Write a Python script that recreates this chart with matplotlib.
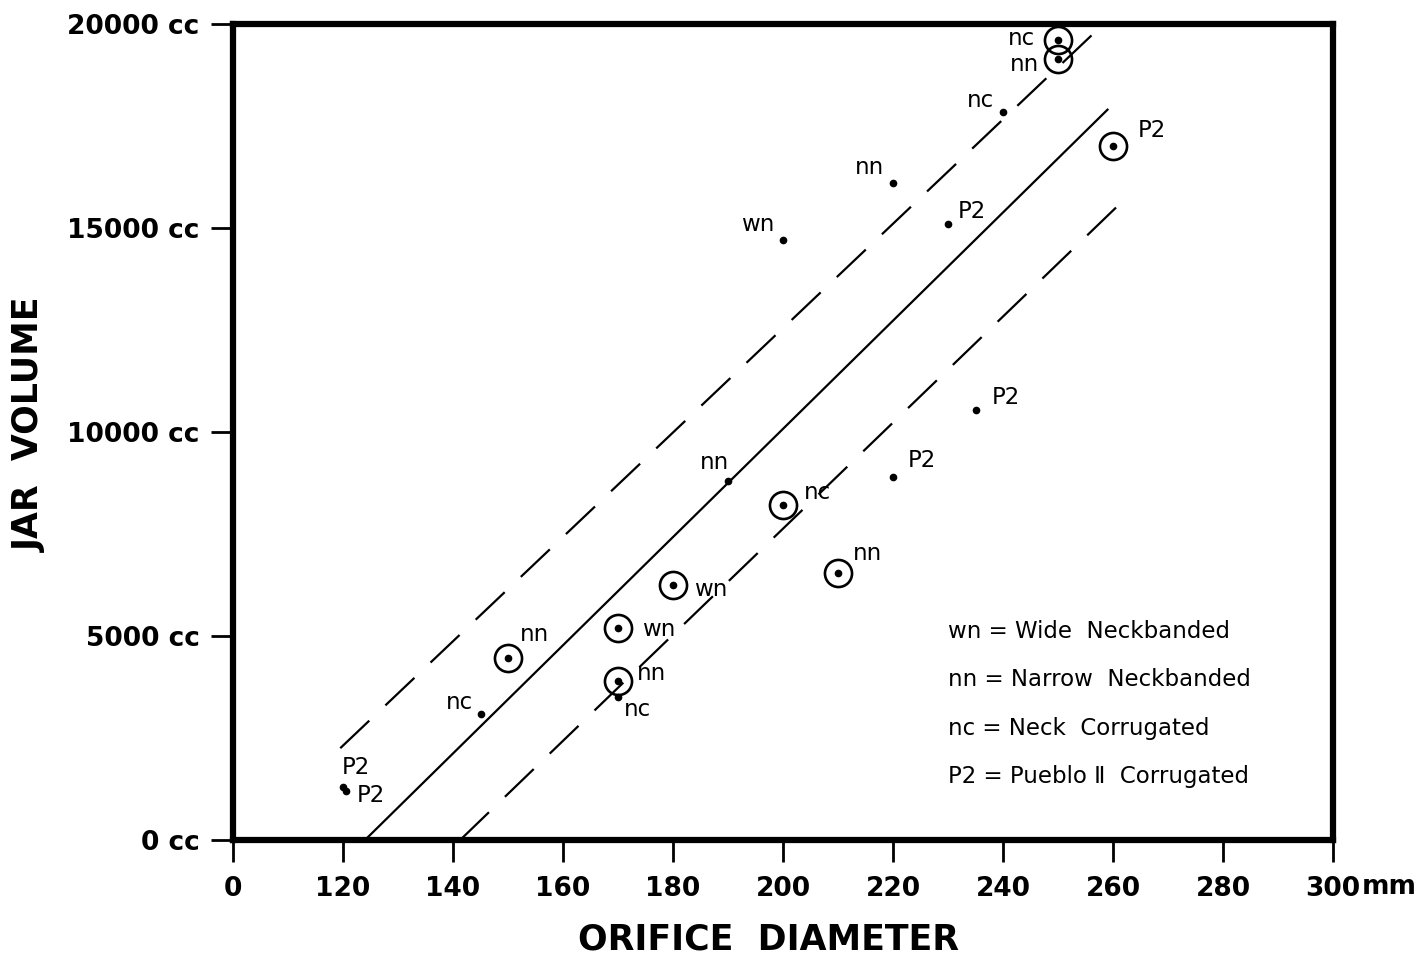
import matplotlib.pyplot as plt
from matplotlib.ticker import FixedLocator

plt.rcParams['font.family'] = ['DejaVu Sans']

# jar measurements: orifice diameter (mm), volume (cc), type code, circled?
diam = [250, 250, 240, 260, 220, 230, 200, 235, 220, 190,
        200, 210, 180, 170, 150, 170, 170, 145, 120, 120.5]
volume = [19600, 19150, 17850, 17000, 16100, 15100, 14700, 10550, 8900, 8800,
          8200, 6550, 6250, 5200, 4450, 3900, 3500, 3100, 1300, 1200]
jar_type = ['nc', 'nn', 'nc', 'P2', 'nn', 'P2', 'wn', 'P2', 'P2', 'nn',
            'nc', 'nn', 'wn', 'wn', 'nn', 'nn', 'nc', 'nc', 'P2', 'P2']
circled = [True, True, False, True, False, False, False, False, False, False,
           True, True, True, True, True, True, False, False, False, False]

# regression line and its limits (end points)
fit_x = [124, 259]
fit_y = [0, 17900]
upper_x = [119.5, 260]
upper_y = [2250, 20220]
lower_x = [141.3, 261]
lower_y = [0, 15560]

x_ticks = [100, 120, 140, 160, 180, 200, 220, 240, 260, 280, 300]
x_tick_labels = ['0', '120', '140', '160', '180', '200', '220', '240', '260', '280', '300']
y_ticks = [0, 5000, 10000, 15000, 20000]
y_tick_labels = ['0 cc', '5000 cc', '10000 cc', '15000 cc', '20000 cc']

legend_codes = ['wn', 'nn', 'nc', 'P2']
legend_names = ['Wide  Neckbanded', 'Narrow  Neckbanded', 'Neck  Corrugated', 'Pueblo Ⅱ  Corrugated']

# label offsets in points (placement only)
label_off = [(-26, 1.5), (-24, -4), (-16, 8), (28, 11.5), (-17, 11), (17, 9), (-18, 11),
             (22, 9), (21, 11.5), (-10, 13), (25, 9), (21, 14), (27, -3), (29, -1.5),
             (19, 17), (24, 5), (14, -9), (-15, 8), (9, 14), (18, -3)]

fig = plt.figure(figsize=(14.26, 9.56), dpi=100)
ax = fig.add_axes([233/1426, 116/956, 1100/1426, 816/956])

ax.plot(fit_x, fit_y, color='black', lw=1.6)
ax.plot(upper_x, upper_y, color='black', lw=1.6, linestyle=(0, (18, 10)))
ax.plot(lower_x, lower_y, color='black', lw=1.6, linestyle=(0, (18, 10)))

for i in range(len(diam)):
    ax.plot(diam[i], volume[i], 'o', color='black', ms=4.5)
    if circled[i]:
        ax.plot(diam[i], volume[i], 'o', mfc='none', mec='black', ms=19.5, mew=1.9)
    ax.annotate(jar_type[i], (diam[i], volume[i]), xytext=label_off[i],
                textcoords='offset points', ha='center', va='center', fontsize=16.5)

for j in range(len(legend_codes)):
    ax.text(0.65, 0.256 - j * 0.0595, legend_codes[j] + ' = ' + legend_names[j],
            transform=ax.transAxes, ha='left', va='center', fontsize=16.5)

ax.set_xlim(100, 300)
ax.set_ylim(0, 20000)
ax.xaxis.set_major_locator(FixedLocator(x_ticks))
ax.set_xticklabels(x_tick_labels, fontweight='bold')
ax.yaxis.set_major_locator(FixedLocator(y_ticks))
ax.set_yticklabels(y_tick_labels, fontweight='bold')
ax.tick_params(axis='both', direction='out', length=16, width=2, labelsize=19)
ax.tick_params(axis='x', pad=10)
ax.tick_params(axis='y', pad=8)
for sp in ax.spines.values():
    sp.set_linewidth(4.5)

ax.annotate('mm', (300, 0), xytext=(21, -34), textcoords='offset points',
            ha='left', va='center', fontsize=19, fontweight='bold', annotation_clip=False)

fig.text(768/1426, 1 - 940/956, 'ORIFICE  DIAMETER', ha='center', va='center',
         fontsize=25, fontweight='bold')
fig.text(30/1426, 1 - 425/956, 'JAR  VOLUME', ha='center', va='center', rotation=90,
         fontsize=25, fontweight='bold')

fig.savefig('out.png', dpi=100, facecolor='white')
